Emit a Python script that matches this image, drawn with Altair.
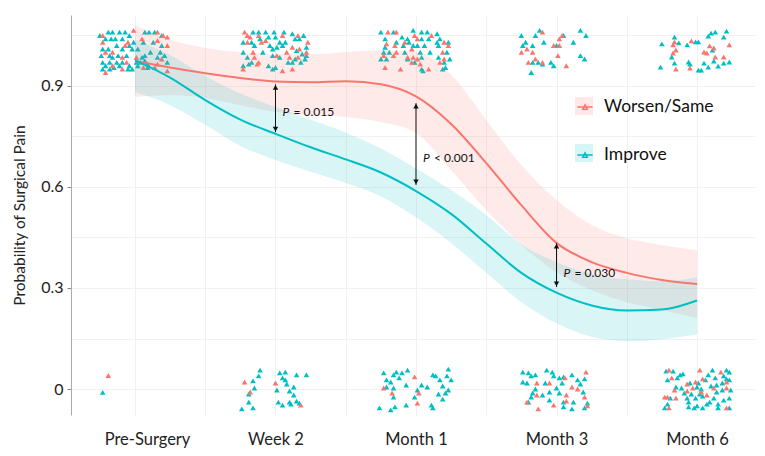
import json
import altair as alt
import pandas as pd

# ---------------- data ----------------
time_labels = ["Pre-Surgery", "Week 2", "Month 1", "Month 3", "Month 6"]
time_index = [1, 2, 3, 4, 5]
groups = ["Worsen/Same", "Improve"]
colors = ["#F8766D", "#00BFC4"]

# jittered observations: (x jitter around the time point, outcome with jitter)
pre_top_improve = [(-0.25,1.05),(-0.19,1.06),(-0.16,1.06),(-0.11,1.06),(-0.07,1.06),(-0.04,1.05),(0.07,1.06),(0.10,1.06),(0.14,1.06),(0.19,1.05),(-0.21,1.04),(-0.17,1.04),(-0.14,1.04),(-0.09,1.04),(-0.01,1.03),(0.06,1.03),(0.13,1.03),(0.19,1.02),(-0.23,1.01),(-0.19,1.01),(-0.13,1.02),(-0.09,1.01),(-0.04,1.02),(-0.02,1.01),(0.02,1.01),(0.11,1.00),(0.18,1.00),(-0.24,0.99),(-0.18,0.99),(-0.16,0.985),(-0.12,0.99),(-0.06,0.99),(0.05,0.985),(0.07,0.99),(0.16,0.985),(0.21,0.99),(-0.23,0.97),(-0.21,0.96),(-0.18,0.97),(-0.13,0.97),(-0.09,0.97),(-0.04,0.96),(0.01,0.97),(0.04,0.97),(0.07,0.975),(0.09,0.965),(0.23,0.97),(-0.23,0.95),(-0.18,0.95),(-0.15,0.955),(-0.11,0.96),(-0.05,0.95),(-0.02,0.95),(0.02,0.96),(0.09,0.955)]
pre_top_worse = [(-0.23,1.05),(-0.01,1.065),(0.16,1.06),(0.20,1.05),(0.23,1.045),(-0.23,1.03),(-0.05,1.03),(0.05,1.04),(0.16,1.035),(0.23,1.02),(-0.16,1.00),(-0.07,1.02),(-0.21,1.00),(-0.09,0.985),(0.01,0.985),(0.19,0.98),(-0.16,0.96),(-0.06,0.97),(0.16,0.965),(-0.21,0.94),(-0.09,0.95),(0.06,0.955),(0.14,0.955),(0.23,0.945)]
pre_bottom_improve = [(-0.23,-0.01)]
pre_bottom_worse = [(-0.19,0.04)]

wk2_top_improve = [(-0.16,1.06),(-0.12,1.06),(-0.07,1.06),(-0.01,1.06),(0.06,1.06),(0.12,1.055),(0.20,1.05),(-0.23,1.03),(-0.17,1.03),(-0.11,1.04),(-0.05,1.045),(0.00,1.045),(0.03,1.03),(0.07,1.03),(0.14,1.04),(0.17,1.04),(0.22,1.015),(-0.15,1.02),(-0.04,1.02),(0.01,1.015),(0.05,1.02),(0.15,1.005),(-0.23,1.00),(-0.09,1.00),(-0.02,1.01),(0.19,0.995),(-0.20,0.985),(-0.17,0.97),(-0.02,0.99),(0.03,0.985),(0.14,0.98),(0.21,0.98),(0.22,0.99),(-0.23,0.96),(-0.19,0.965),(-0.05,0.96),(-0.02,0.95),(0.00,0.955),(0.09,0.97),(0.12,0.97),(0.18,0.97)]
wk2_top_worse = [(-0.22,1.06),(-0.20,1.05),(0.16,1.05),(-0.18,1.045),(-0.20,1.03),(-0.12,1.05),(0.05,1.05),(0.23,1.03),(-0.07,1.035),(-0.10,1.03),(0.12,1.015),(0.17,1.01),(-0.16,1.00),(0.08,1.00),(0.22,1.00),(-0.15,0.985),(0.01,0.99),(0.10,0.985),(0.16,0.985),(-0.12,0.97),(-0.23,0.95),(-0.13,0.965),(0.05,0.945),(0.12,0.95)]
wk2_bottom_improve = [(-0.11,0.056),(-0.12,0.039),(-0.16,0.024),(-0.15,0.003),(-0.19,-0.015),(-0.19,-0.039),(-0.24,-0.059),(-0.16,-0.056),(0.03,0.048),(0.07,0.05),(0.15,0.042),(0.22,0.042),(0.05,0.033),(0.07,0.027),(0.08,0.015),(0.01,-0.003),(0.10,-0.006),(0.13,0.006),(0.13,-0.018),(0.02,-0.039),(0.05,-0.048),(0.10,-0.039),(0.11,-0.045),(0.15,-0.036),(0.17,-0.042)]
wk2_bottom_worse = [(-0.22,0.021),(-0.18,-0.009),(0.00,0.018),(0.18,-0.048)]

m1_top_improve = [(-0.25,1.06),(-0.16,1.06),(-0.02,1.065),(0.04,1.06),(0.08,1.06),(0.15,1.055),(-0.22,1.04),(-0.10,1.045),(-0.06,1.04),(0.04,1.04),(0.09,1.04),(0.17,1.04),(0.23,1.03),(-0.14,1.03),(-0.05,1.03),(0.15,1.03),(-0.22,1.015),(-0.09,1.02),(-0.02,1.02),(0.01,1.02),(0.06,1.02),(0.16,1.02),(-0.23,1.00),(-0.19,1.00),(-0.08,1.00),(0.03,1.00),(0.10,1.00),(0.22,1.00),(-0.25,0.98),(-0.21,0.98),(0.04,0.985),(-0.06,0.98),(0.16,0.985),(0.24,0.98),(-0.01,0.97),(0.20,0.97),(0.04,0.95),(0.05,0.945),(0.19,0.95),(0.21,0.955)]
m1_top_worse = [(-0.20,1.06),(-0.14,1.06),(-0.01,1.05),(0.11,1.05),(-0.08,1.03),(0.20,1.03),(-0.21,1.025),(0.01,1.04),(-0.15,1.02),(0.23,1.02),(-0.14,1.00),(-0.03,1.01),(0.19,1.00),(-0.23,0.99),(-0.16,0.99),(-0.06,0.985),(-0.02,0.985),(-0.03,0.97),(0.01,0.98),(0.20,0.98),(0.03,0.965),(0.17,0.97),(-0.22,0.955),(-0.11,0.95),(0.09,0.95)]
m1_bottom_improve = [(-0.23,0.048),(-0.16,0.042),(-0.14,0.05),(-0.10,0.048),(-0.06,0.056),(-0.21,0.027),(-0.18,0.021),(-0.12,0.033),(-0.21,0.006),(-0.16,0.003),(-0.16,-0.024),(-0.07,0.012),(-0.26,-0.056),(-0.18,-0.062),(-0.15,-0.053),(-0.07,-0.048),(-0.01,-0.024),(0.01,-0.003),(0.04,0.012),(0.08,0.006),(0.12,0.042),(0.14,0.039),(0.17,0.027),(0.22,0.039),(0.23,0.059),(0.25,0.027),(0.19,0.009),(0.23,-0.003),(0.21,-0.012),(0.16,-0.015),(0.19,-0.03),(0.11,-0.048),(0.12,-0.056)]
m1_bottom_worse = [(-0.01,0.036),(-0.23,0.003),(-0.17,-0.012),(0.01,-0.042),(0.02,-0.012)]

m3_top_improve = [(-0.25,1.05),(-0.22,1.03),(-0.24,1.02),(-0.17,1.02),(-0.15,1.05),(-0.12,1.065),(-0.09,1.03),(0.00,1.02),(0.05,1.05),(0.12,1.03),(0.17,1.065),(0.21,1.05),(0.17,0.99),(0.20,0.98),(-0.13,0.97),(-0.10,0.965),(-0.04,0.97),(-0.02,0.96),(-0.18,0.94),(-0.17,0.97)]
m3_top_worse = [(-0.25,1.00),(-0.21,1.01),(-0.17,1.00),(-0.10,1.06),(-0.02,1.02),(0.02,1.04),(0.04,1.05),(0.02,1.02),(0.01,0.99),(-0.20,0.97),(-0.15,0.98),(-0.10,0.97),(0.07,0.96)]
m3_bottom_improve = [(-0.24,0.05),(-0.20,0.048),(-0.18,0.039),(-0.15,0.042),(-0.24,0.021),(-0.21,0.018),(-0.07,0.056),(-0.03,0.05),(-0.02,0.039),(-0.08,0.018),(0.02,0.033),(0.05,0.036),(0.11,0.042),(0.15,0.027),(0.20,0.03),(0.17,0.015),(0.04,0.018),(0.00,0.003),(0.19,-0.009),(-0.15,0.0),(-0.17,-0.012),(-0.18,-0.024),(-0.10,-0.018),(-0.05,-0.009),(0.02,-0.012),(-0.20,-0.039),(-0.05,-0.033),(0.05,-0.039),(0.12,-0.039),(0.05,-0.053),(0.11,-0.059),(0.22,-0.042),(0.20,-0.056)]
m3_bottom_worse = [(-0.14,0.018),(-0.05,0.018),(0.06,0.033),(0.21,0.05),(0.11,0.006),(0.15,0.0),(-0.14,-0.018),(0.07,-0.018),(0.20,-0.024),(-0.21,-0.039),(-0.02,-0.048),(0.07,-0.036),(-0.13,-0.059),(0.22,-0.05)]

m6_top_improve = [(-0.25,1.025),(-0.16,1.045),(-0.13,1.028),(-0.07,1.022),(-0.01,1.031),(0.01,1.031),(0.08,1.048),(0.10,1.057),(0.13,1.06),(0.21,1.063),(0.19,1.045),(0.11,1.007),(-0.18,0.986),(-0.16,0.968),(-0.06,0.971),(-0.05,0.965),(-0.26,0.956),(0.05,0.968),(0.12,0.974),(0.15,0.959),(0.19,0.968),(0.23,0.971),(0.01,0.947),(0.03,0.947),(0.08,0.956)]
m6_top_worse = [(-0.17,1.022),(-0.16,1.031),(-0.15,1.007),(-0.17,0.998),(-0.04,1.034),(0.09,1.019),(0.05,1.001),(0.07,0.998),(0.12,1.013),(0.13,0.986),(0.19,0.986),(0.23,1.022),(-0.15,0.95),(-0.05,0.953)]
m6_bottom_improve = [(-0.22,0.053),(-0.17,0.053),(-0.21,0.027),(-0.14,0.033),(-0.12,0.042),(-0.10,0.045),(0.11,0.056),(0.21,0.056),(0.23,0.05),(0.19,0.039),(0.21,0.03),(0.23,0.027),(0.18,0.018),(0.13,0.033),(0.08,0.042),(0.06,0.027),(0.01,0.018),(-0.05,0.018),(-0.15,0.006),(-0.11,0.003),(0.00,0.006),(0.03,0.0),(0.10,0.009),(0.14,0.012),(0.14,-0.009),(0.18,-0.003),(0.24,-0.003),(-0.19,-0.027),(-0.09,-0.012),(-0.04,-0.015),(0.02,-0.015),(0.04,-0.021),(-0.07,-0.027),(-0.01,-0.027),(-0.06,-0.039),(0.09,-0.039),(0.12,-0.027),(0.19,-0.033),(0.23,-0.027),(-0.21,-0.045),(-0.23,-0.056),(-0.06,-0.053),(-0.02,-0.056),(0.00,-0.05),(0.04,-0.056),(0.07,-0.045),(0.15,-0.045),(0.15,-0.056),(0.23,-0.056)]
m6_bottom_worse = [(-0.20,0.056),(-0.18,0.033),(0.02,0.056),(0.17,0.05),(0.21,0.021),(0.04,0.03),(-0.01,0.021),(-0.07,0.015),(-0.16,-0.003),(-0.03,0.003),(0.12,0.003),(0.21,0.003),(-0.23,-0.024),(-0.21,-0.024),(-0.15,-0.027),(-0.07,-0.006),(0.07,-0.018),(0.03,-0.009),(-0.20,-0.056),(0.21,-0.056)]

# smoothed probability curves with confidence bands
curve_x = [1.0, 1.25, 1.5, 1.75, 2.0, 2.25, 2.5, 2.75, 3.0, 3.25, 3.5, 3.75, 4.0, 4.25, 4.5, 4.75, 5.0]
worse_fit = [0.974, 0.955, 0.938, 0.924, 0.913, 0.911, 0.914, 0.905, 0.869, 0.787, 0.671, 0.546, 0.434, 0.377, 0.345, 0.324, 0.312]
worse_hi = [1.081, 1.037, 1.013, 1.001, 0.994, 0.994, 1.001, 1.005, 1.002, 0.933, 0.799, 0.665, 0.561, 0.487, 0.448, 0.428, 0.413]
worse_lo = [0.867, 0.873, 0.864, 0.843, 0.823, 0.813, 0.808, 0.793, 0.760, 0.650, 0.532, 0.428, 0.347, 0.294, 0.258, 0.235, 0.211]
improve_fit = [0.977, 0.925, 0.858, 0.800, 0.758, 0.718, 0.682, 0.643, 0.588, 0.520, 0.432, 0.345, 0.286, 0.248, 0.233, 0.236, 0.263]
improve_hi = [1.037, 0.992, 0.930, 0.878, 0.838, 0.800, 0.762, 0.714, 0.655, 0.591, 0.517, 0.430, 0.377, 0.341, 0.326, 0.320, 0.332]
improve_lo = [0.882, 0.843, 0.785, 0.722, 0.680, 0.645, 0.612, 0.572, 0.510, 0.434, 0.345, 0.258, 0.195, 0.155, 0.142, 0.148, 0.162]

# significance arrows
arrow_x = [2, 3, 4]
arrow_top = [0.905, 0.849, 0.433]
arrow_bottom = [0.763, 0.606, 0.303]
arrow_label_y = [0.823, 0.686, 0.345]
arrow_text = ["= 0.015", "< 0.001", "= 0.030"]

y_label_values = [0, 0.3, 0.6, 0.9]
y_grid_values = [0, 0.15, 0.3, 0.45, 0.6, 0.75, 0.9, 1.05]
x_grid_values = [1, 1.5, 2, 2.5, 3, 3.5, 4, 4.5, 5]

# ---------------- tables ----------------
clusters = [
    (1, "Improve", pre_top_improve), (1, "Worsen/Same", pre_top_worse),
    (1, "Improve", pre_bottom_improve), (1, "Worsen/Same", pre_bottom_worse),
    (2, "Improve", wk2_top_improve), (2, "Worsen/Same", wk2_top_worse),
    (2, "Improve", wk2_bottom_improve), (2, "Worsen/Same", wk2_bottom_worse),
    (3, "Improve", m1_top_improve), (3, "Worsen/Same", m1_top_worse),
    (3, "Improve", m1_bottom_improve), (3, "Worsen/Same", m1_bottom_worse),
    (4, "Improve", m3_top_improve), (4, "Worsen/Same", m3_top_worse),
    (4, "Improve", m3_bottom_improve), (4, "Worsen/Same", m3_bottom_worse),
    (5, "Improve", m6_top_improve), (5, "Worsen/Same", m6_top_worse),
    (5, "Improve", m6_bottom_improve), (5, "Worsen/Same", m6_bottom_worse),
]
rows = []
for t, g, pts in clusters:
    for dx, yv in pts:
        rows.append({"x": t + dx, "y": yv, "group": g})
points_df = pd.DataFrame(rows)

curve_rows = []
for i, xv in enumerate(curve_x):
    curve_rows.append({"x": xv, "fit": worse_fit[i], "lo": worse_lo[i], "hi": worse_hi[i], "group": "Worsen/Same"})
    curve_rows.append({"x": xv, "fit": improve_fit[i], "lo": improve_lo[i], "hi": improve_hi[i], "group": "Improve"})
curve_df = pd.DataFrame(curve_rows)

arrow_df = pd.DataFrame({"x": arrow_x, "top": arrow_top, "bottom": arrow_bottom,
                         "ly": arrow_label_y, "txt": arrow_text})

FONT = "Lato"
x_dom = [0.5445, 5.4128]
y_dom = [-0.0772, 1.1108]
color_scale = alt.Scale(domain=groups, range=colors)

legend_common = dict(
    title=None, orient="none", legendX=504, legendY=82,
    labelFont=FONT, labelFontSize=17.5, labelOffset=9, rowPadding=29,
    symbolSize=324, labelLimit=300,
)
color_points = alt.Color("group:N", scale=color_scale, legend=None)
color_band = alt.Color(
    "group:N", scale=color_scale,
    legend=alt.Legend(symbolType="square", symbolOpacity=0.16, symbolStrokeWidth=0,
                      labelColor="#111111", labelExpr="''", **legend_common),
)
color_line = alt.Color(
    "group:N", scale=color_scale,
    legend=alt.Legend(symbolType="M-0.85,0H0.85M-0.25,0.24L0,-0.24L0.25,0.24Z",
                      symbolStrokeWidth=1.5, labelColor="#111111", **legend_common),
)

label_expr = "datum.value % 1 === 0 ? " + json.dumps(time_labels) + "[datum.value - 1] : ''"
x_enc = alt.X(
    "x:Q", scale=alt.Scale(domain=x_dom, nice=False, zero=False),
    axis=alt.Axis(
        title=None, values=x_grid_values, labelExpr=label_expr, ticks=False, domain=False,
        labelFont=FONT, labelFontSize=16.5, labelColor="#222222", labelPadding=16,
        labelOffset={"condition": {"test": "datum.value === 1", "value": 12}, "value": 0},
        grid=True, gridColor="#F1F1F1", labelFlush=False,
    ),
)
y_test = "indexof(" + json.dumps(y_label_values) + ", datum.value) >= 0"
y_enc = alt.Y(
    "y:Q", scale=alt.Scale(domain=y_dom, nice=False, zero=False),
    axis=alt.Axis(
        title="Probability of Surgical Pain", values=y_grid_values,
        labelExpr=y_test + " ? (datum.value === 0 ? '0' : format(datum.value, '.1f')) : ''",
        tickOpacity={"condition": {"test": y_test, "value": 1}, "value": 0},
        tickColor="#888888", tickSize=4, domainColor="#AAAAAA",
        labelFont=FONT, labelFontSize=16, labelColor="#222222", labelPadding=4,
        titleFont=FONT, titleFontSize=15.5, titleFontWeight="normal", titleColor="#222222",
        titlePadding=13, grid=True, gridColor="#F1F1F1",
    ),
)

points = alt.Chart(points_df).mark_point(
    shape="triangle-up", filled=True, size=32, opacity=1
).encode(x=x_enc, y=y_enc, color=color_points)

bands = alt.Chart(curve_df).mark_area(opacity=0.15, interpolate="monotone").encode(
    x="x:Q", y="lo:Q", y2="hi:Q", color=color_band, detail="group:N"
)

lines = alt.Chart(curve_df).mark_line(strokeWidth=2, interpolate="monotone").encode(
    x="x:Q", y="fit:Q", color=color_line
)

arrow_shaft = alt.Chart(arrow_df).mark_rule(color="#111111", strokeWidth=1).encode(
    x="x:Q", y="top:Q", y2="bottom:Q"
)
arrow_up = alt.Chart(arrow_df).mark_point(
    shape="triangle-up", filled=True, size=30, color="#111111", opacity=1, yOffset=3
).encode(x="x:Q", y="top:Q")
arrow_down = alt.Chart(arrow_df).mark_point(
    shape="triangle-down", filled=True, size=30, color="#111111", opacity=1, yOffset=-3
).encode(x="x:Q", y="bottom:Q")
p_italic = alt.Chart(arrow_df).mark_text(
    text="P", font=FONT, fontSize=12, fontStyle="italic", align="left", dx=7, color="#111111"
).encode(x="x:Q", y="ly:Q")
p_rest = alt.Chart(arrow_df).mark_text(
    font=FONT, fontSize=12, align="left", dx=18, color="#111111"
).encode(x="x:Q", y="ly:Q", text="txt:N")

chart = alt.layer(
    points, bands, lines, arrow_shaft, arrow_up, arrow_down, p_italic, p_rest
).resolve_legend(color="independent").properties(
    width=684, height=400,
    padding={"left": 63, "top": 7, "right": 2, "bottom": 41},
    autosize=alt.AutoSizeParams(type="none"),
    background="white",
).configure_view(stroke=None)

chart.save("out.html", embed_options={"renderer": "svg", "actions": False})
